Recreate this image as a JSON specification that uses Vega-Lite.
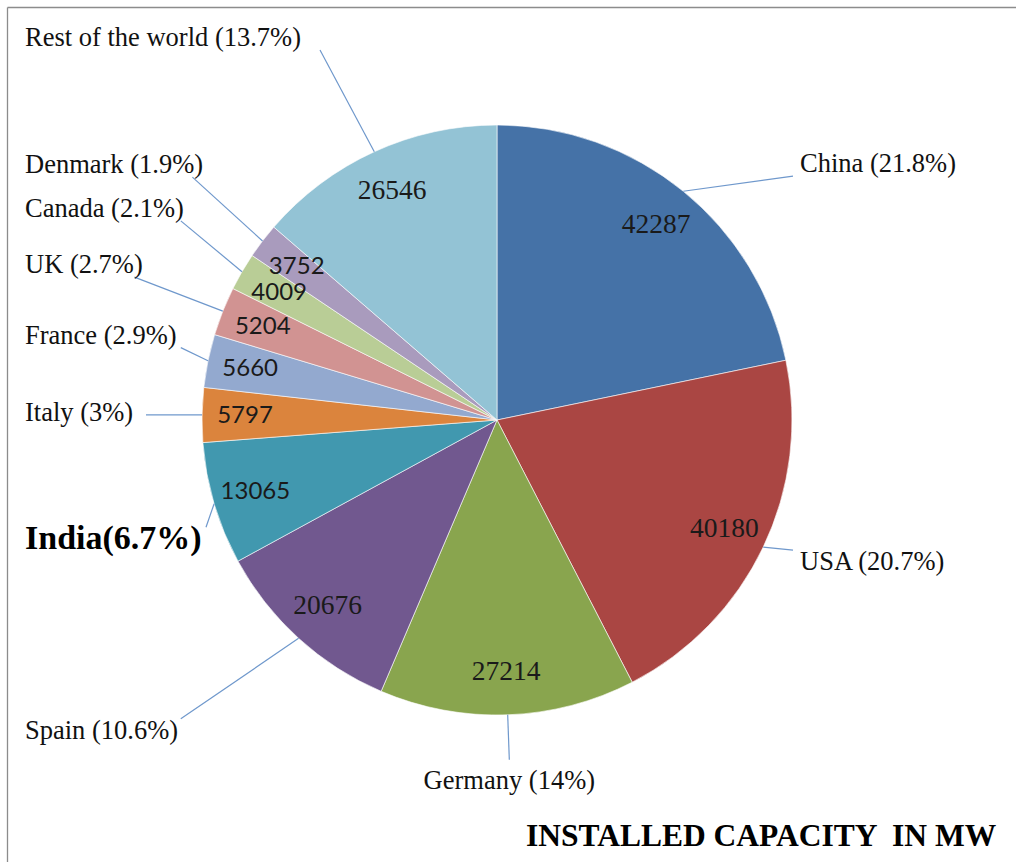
{
  "$schema": "https://vega.github.io/schema/vega-lite/v6.json",
  "width": 1009,
  "height": 855,
  "autosize": {"type": "none"},
  "padding": {"left": 7, "top": 7, "right": 0, "bottom": 0},
  "background": "#ffffff",
  "view": {"stroke": null},
  "config": {
    "axis": {
      "domain": true,
      "domainColor": "#8c8c8c",
      "domainWidth": 1.3,
      "ticks": false,
      "labels": false,
      "grid": false,
      "title": null
    }
  },
  "title": {
    "text": "INSTALLED CAPACITY \u00a0IN MW",
    "orient": "bottom",
    "anchor": "start",
    "frame": "group",
    "offset": -41,
    "dx": 519,
    "font": "Liberation Serif",
    "fontSize": 31.5,
    "fontWeight": "bold",
    "color": "#000000"
  },
  "data": {
    "values": [
      {"idx": 1, "country": "China", "value": 42287, "label": "China (21.8%)"},
      {"idx": 2, "country": "USA", "value": 40180, "label": "USA (20.7%)"},
      {"idx": 3, "country": "Germany", "value": 27214, "label": "Germany (14%)"},
      {"idx": 4, "country": "Spain", "value": 20676, "label": "Spain (10.6%)"},
      {"idx": 5, "country": "India", "value": 13065, "label": "India(6.7%)"},
      {"idx": 6, "country": "Italy", "value": 5797, "label": "Italy (3%)"},
      {"idx": 7, "country": "France", "value": 5660, "label": "France (2.9%)"},
      {"idx": 8, "country": "UK", "value": 5204, "label": "UK (2.7%)"},
      {"idx": 9, "country": "Canada", "value": 4009, "label": "Canada (2.1%)"},
      {"idx": 10, "country": "Denmark", "value": 3752, "label": "Denmark (1.9%)"},
      {"idx": 11, "country": "Rest of the world", "value": 26546, "label": "Rest of the world (13.7%)"}
    ]
  },
  "transform": [
    {"joinaggregate": [{"op": "sum", "field": "value", "as": "total"}]},
    {"window": [{"op": "sum", "field": "value", "as": "cum"}], "sort": [{"field": "idx", "order": "ascending"}], "frame": [null, 0]},
    {"calculate": "2*PI*(datum.cum - datum.value/2)/datum.total", "as": "mid"},
    {"calculate": "datum.mid > 200*PI/180 ? 'left' : (datum.mid < 160*PI/180 ? 'right' : 'bottom')", "as": "side"},
    {"calculate": "sin(datum.mid)*295", "as": "rx"},
    {"calculate": "cos(datum.mid)*295", "as": "ry"},
    {"calculate": "sin(datum.mid)*252", "as": "vx"},
    {"calculate": "cos(datum.mid)*252", "as": "vy"},
    {"calculate": "datum.side === 'left' ? -472 : (datum.side === 'right' ? 303 : sin(datum.mid)*340)", "as": "lx"},
    {"calculate": "datum.side === 'bottom' ? cos(datum.mid)*340 - 8 : (datum.side === 'right' ? cos(datum.mid)*330 : cos(datum.mid)*420)", "as": "ly"},
    {"calculate": "datum.side === 'left' ? -472 + length(datum.label)*(datum.country === 'India' ? 16 : 11.6) + 5 : (datum.side === 'right' ? 296 : sin(datum.mid)*340)", "as": "ex"},
    {"calculate": "datum.side === 'bottom' ? cos(datum.mid)*340 : datum.ly + clamp(datum.ry - datum.ly, -12, 12)", "as": "ey"}
  ],
  "layer": [
    {
      "mark": {"type": "arc", "outerRadius": 295, "stroke": "#ffffff", "strokeWidth": 0.6},
      "encoding": {
        "x": {"datum": 0, "type": "quantitative", "scale": {"domain": [-490, 519], "nice": false, "zero": false}, "axis": {"orient": "top"}},
        "y": {"datum": 0, "type": "quantitative", "scale": {"domain": [-442, 413], "nice": false, "zero": false}, "axis": {"orient": "left"}},
        "theta": {"field": "value", "type": "quantitative", "stack": true},
        "order": {"field": "idx", "type": "quantitative"},
        "color": {
          "field": "country",
          "type": "nominal",
          "legend": null,
          "scale": {
            "domain": ["China", "USA", "Germany", "Spain", "India", "Italy", "France", "UK", "Canada", "Denmark", "Rest of the world"],
            "range": ["#4572A7", "#AA4643", "#89A54E", "#71588F", "#4198AF", "#DB843D", "#93A9CF", "#D19392", "#B9CD96", "#A99BBD", "#93C3D5"]
          }
        }
      }
    },
    {
      "mark": {"type": "rule", "color": "#6f98cc", "strokeWidth": 1.2},
      "encoding": {
        "x": {"field": "rx", "type": "quantitative", "scale": {"domain": [-490, 519], "nice": false, "zero": false}, "axis": {"orient": "top"}},
        "y": {"field": "ry", "type": "quantitative", "scale": {"domain": [-442, 413], "nice": false, "zero": false}, "axis": {"orient": "left"}},
        "x2": {"field": "ex"},
        "y2": {"field": "ey"}
      }
    },
    {
      "transform": [{"filter": "datum.value >= 15000"}],
      "mark": {"type": "text", "font": "Liberation Serif", "fontSize": 27.5, "color": "#1a1a1a", "align": "center", "baseline": "middle"},
      "encoding": {
        "x": {"field": "vx", "type": "quantitative", "scale": {"domain": [-490, 519], "nice": false, "zero": false}, "axis": {"orient": "top"}},
        "y": {"field": "vy", "type": "quantitative", "scale": {"domain": [-442, 413], "nice": false, "zero": false}, "axis": {"orient": "left"}},
        "text": {"field": "value", "type": "nominal"}
      }
    },
    {
      "transform": [{"filter": "datum.value < 15000"}],
      "mark": {"type": "text", "font": "Lato", "fontSize": 24, "color": "#1a1a1a", "align": "center", "baseline": "middle"},
      "encoding": {
        "x": {"field": "vx", "type": "quantitative", "scale": {"domain": [-490, 519], "nice": false, "zero": false}, "axis": {"orient": "top"}},
        "y": {"field": "vy", "type": "quantitative", "scale": {"domain": [-442, 413], "nice": false, "zero": false}, "axis": {"orient": "left"}},
        "text": {"field": "value", "type": "nominal"}
      }
    },
    {
      "transform": [{"filter": "datum.side !== 'bottom' && datum.country !== 'India'"}],
      "mark": {"type": "text", "font": "Liberation Serif", "fontSize": 26.5, "color": "#111111", "align": "left", "baseline": "middle"},
      "encoding": {
        "x": {"field": "lx", "type": "quantitative", "scale": {"domain": [-490, 519], "nice": false, "zero": false}, "axis": {"orient": "top"}},
        "y": {"field": "ly", "type": "quantitative", "scale": {"domain": [-442, 413], "nice": false, "zero": false}, "axis": {"orient": "left"}},
        "text": {"field": "label"}
      }
    },
    {
      "transform": [{"filter": "datum.country === 'India'"}],
      "mark": {"type": "text", "font": "Liberation Serif", "fontSize": 34, "fontWeight": "bold", "color": "#000000", "align": "left", "baseline": "middle"},
      "encoding": {
        "x": {"field": "lx", "type": "quantitative", "scale": {"domain": [-490, 519], "nice": false, "zero": false}, "axis": {"orient": "top"}},
        "y": {"field": "ly", "type": "quantitative", "scale": {"domain": [-442, 413], "nice": false, "zero": false}, "axis": {"orient": "left"}},
        "text": {"field": "label"}
      }
    },
    {
      "transform": [{"filter": "datum.side === 'bottom'"}],
      "mark": {"type": "text", "font": "Liberation Serif", "fontSize": 26.5, "color": "#111111", "align": "center", "baseline": "top"},
      "encoding": {
        "x": {"field": "lx", "type": "quantitative", "scale": {"domain": [-490, 519], "nice": false, "zero": false}, "axis": {"orient": "top"}},
        "y": {"field": "ly", "type": "quantitative", "scale": {"domain": [-442, 413], "nice": false, "zero": false}, "axis": {"orient": "left"}},
        "text": {"field": "label"}
      }
    }
  ]
}
